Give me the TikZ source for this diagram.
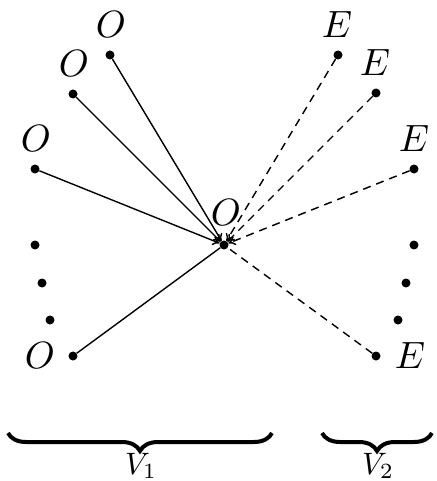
\documentclass[tikz,border=0pt]{standalone}
\usetikzlibrary{decorations.pathreplacing,arrows.meta}
\newcommand{\biglbl}[1]{\scalebox{3.8}{$#1$}}
\newcommand{\setlbl}[1]{\scalebox{3.1}{$#1$}}
\begin{document}
\begin{tikzpicture}[x=1pt,y=-1pt,
  vdot/.style={circle,fill=black,inner sep=0pt,minimum size=9pt},
  lbl/.style={inner sep=0pt},
  edgeo/.style={line width=1.4pt,-{To[length=7pt,width=9pt]}},
  edgee/.style={line width=1.4pt,dash pattern=on 8pt off 6pt,-{To[length=7pt,width=9pt]}},
  plain/.style={line width=1.4pt},
  plaind/.style={line width=1.4pt,dash pattern=on 8pt off 6pt},
  brc/.style={decorate,decoration={brace,mirror,amplitude=18pt},line width=4pt}]
\useasboundingbox (0,0) rectangle (436,481);
% center
\node[vdot] (c) at (224,245) {};
\node[lbl] (lc) at (226,213) {\biglbl{O}};
% left
\node[vdot] (o1) at (110,55) {};
\node[vdot] (o2) at (73,94) {};
\node[vdot] (o3) at (35,169) {};
\node[vdot] (d1) at (35,245) {};
\node[vdot] (d2) at (42,283) {};
\node[vdot] (d3) at (50,320) {};
\node[vdot] (o4) at (73,356) {};
\node[lbl] at (111,25) {\biglbl{O}};
\node[lbl] at (74,64) {\biglbl{O}};
\node[lbl] at (36,139) {\biglbl{O}};
\node[lbl] at (40,356) {\biglbl{O}};
% right
\node[vdot] (e1) at (338,55) {};
\node[vdot] (e2) at (376,93) {};
\node[vdot] (e3) at (414,169) {};
\node[vdot] (f1) at (414,245) {};
\node[vdot] (f2) at (406,283) {};
\node[vdot] (f3) at (398,320) {};
\node[vdot] (e4) at (376,356) {};
\node[lbl] at (337,25) {\biglbl{E}};
\node[lbl] at (375,63) {\biglbl{E}};
\node[lbl] at (414,139) {\biglbl{E}};
\node[lbl] at (410,356) {\biglbl{E}};
% edges
\draw[edgeo] (o1) -- (c);
\draw[edgeo] (o2) -- (c);
\draw[edgeo] (o3) -- (c);
\draw[plain] (o4) -- (c);
\draw[edgee] (e1) -- (c);
\draw[edgee] (e2) -- (c);
\draw[edgee] (e3) -- (c);
\draw[plaind] (e4) -- (c);
% braces
\coordinate (b1a) at (8,433);
\coordinate (b1b) at (272,433);
\coordinate (b2a) at (322,433);
\coordinate (b2b) at (432,433);
\draw[brc] (b1a) -- (b1b);
\draw[brc] (b2a) -- (b2b);
\node[lbl] at (141,466) {\setlbl{V_1}};
\node[lbl] at (378,466) {\setlbl{V_2}};
\end{tikzpicture}
\end{document}
